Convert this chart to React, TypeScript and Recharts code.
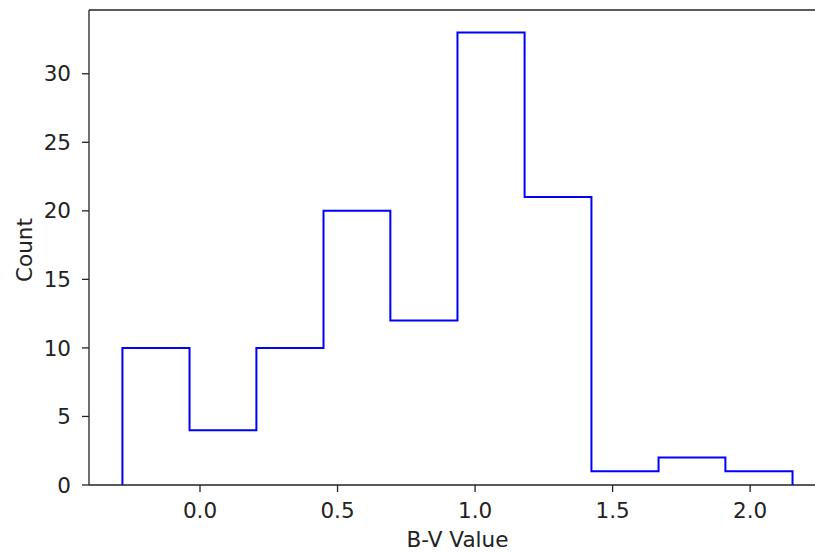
import React from "react";
import { ComposedChart, Line, XAxis, YAxis, ReferenceLine, Label } from "recharts";

const BIN_EDGES = [-0.282, -0.038, 0.205, 0.449, 0.692, 0.936, 1.18, 1.423, 1.667, 1.91, 2.154];
const COUNTS = [10, 4, 10, 20, 12, 33, 21, 1, 2, 1];
const X_TICKS = [0, 0.5, 1.0, 1.5, 2.0];
const Y_TICKS = [0, 5, 10, 15, 20, 25, 30];
const X_LABEL = "B-V Value";
const Y_LABEL = "Count";

const X_DOMAIN: [number, number] = [-0.4035, 2.2757];
const Y_MAX = 34.65;

// step outline vertices built from edges and counts
const stepData: { x: number; y: number }[] = [];
stepData.push({ x: BIN_EDGES[0], y: 0 });
COUNTS.forEach((c, i) => {
  stepData.push({ x: BIN_EDGES[i], y: c });
  stepData.push({ x: BIN_EDGES[i + 1], y: c });
});
stepData.push({ x: BIN_EDGES[BIN_EDGES.length - 1], y: 0 });

const FONT = "'DejaVu Sans', sans-serif";
const FS = 21.5;
const INK = "#222";

export default function App() {
  return (
    <div style={{ position: "absolute", left: 0, top: 0, width: 815, height: 552, overflow: "hidden", background: "#fff" }}>
      <ComposedChart
        width={827}
        height={552}
        data={stepData}
        margin={{ top: 10, right: 1, bottom: 0, left: 0 }}
      >
        <XAxis
          dataKey="x"
          type="number"
          domain={X_DOMAIN}
          allowDataOverflow
          ticks={X_TICKS}
          tickFormatter={(v: number) => v.toFixed(1)}
          height={67}
          tickSize={7}
          tickMargin={11}
          stroke={INK}
          axisLine={{ stroke: INK, strokeWidth: 1.3 }}
          tickLine={{ stroke: INK, strokeWidth: 1.3 }}
          tick={{ fill: INK, fontSize: FS, fontFamily: FONT }}
        >
          <Label
            content={(props: any) => {
              const vb = props.viewBox || {};
              const cx = vb.x + vb.width / 2;
              return (
                <text x={cx} y={546.5} textAnchor="middle" fill={INK} fontSize={FS} fontFamily={FONT}>
                  {X_LABEL}
                </text>
              );
            }}
          />
        </XAxis>
        <YAxis
          type="number"
          domain={[0, Y_MAX]}
          allowDataOverflow
          ticks={Y_TICKS}
          width={89}
          tickSize={7}
          tickMargin={11}
          stroke={INK}
          axisLine={{ stroke: INK, strokeWidth: 1.3 }}
          tickLine={{ stroke: INK, strokeWidth: 1.3 }}
          tick={{ fill: INK, fontSize: FS, fontFamily: FONT }}
        >
          <Label
            content={() => (
              <text
                x={31.5}
                y={250}
                transform="rotate(-90 31.5 250)"
                textAnchor="middle"
                fill={INK}
                fontSize={FS}
                fontFamily={FONT}
              >
                {Y_LABEL}
              </text>
            )}
          />
        </YAxis>
        <ReferenceLine y={Y_MAX} stroke={INK} strokeWidth={1.3} ifOverflow="visible" />
        <ReferenceLine x={X_DOMAIN[1]} stroke={INK} strokeWidth={1.3} ifOverflow="visible" />
        <Line
          type="linear"
          dataKey="y"
          stroke="#0000ff"
          strokeWidth={2}
          dot={false}
          activeDot={false}
          isAnimationActive={false}
        />
      </ComposedChart>
    </div>
  );
}
